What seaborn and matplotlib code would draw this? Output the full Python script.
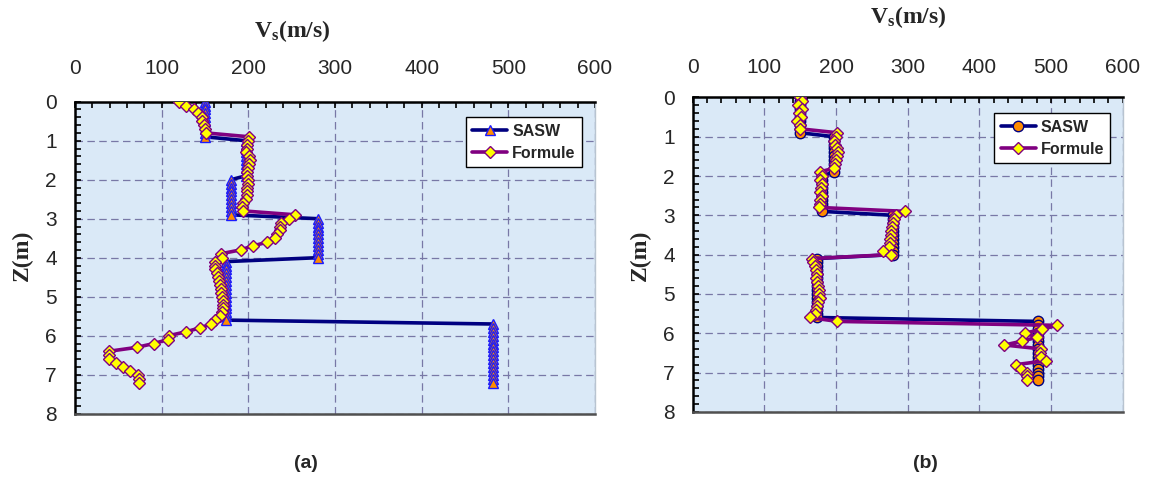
import matplotlib
matplotlib.use("Agg")
import matplotlib.pyplot as plt
import seaborn as sns
import pandas as pd
from matplotlib.ticker import MultipleLocator
from matplotlib.lines import Line2D

# ---------------- data ----------------
depth = [0.0, 0.1, 0.2, 0.3, 0.4, 0.5, 0.6, 0.7, 0.8, 0.9,
         1.0, 1.1, 1.2, 1.3, 1.4, 1.5, 1.6, 1.7, 1.8, 1.9,
         2.0, 2.1, 2.2, 2.3, 2.4, 2.5, 2.6, 2.7, 2.8, 2.9,
         3.0, 3.1, 3.2, 3.3, 3.4, 3.5, 3.6, 3.7, 3.8, 3.9,
         4.0, 4.1, 4.2, 4.3, 4.4, 4.5, 4.6, 4.7, 4.8, 4.9,
         5.0, 5.1, 5.2, 5.3, 5.4, 5.5, 5.6, 5.7, 5.8, 5.9,
         6.0, 6.1, 6.2, 6.3, 6.4, 6.5, 6.6, 6.7, 6.8, 6.9,
         7.0, 7.1, 7.2]

sasw = [150, 150, 150, 150, 150, 150, 150, 150, 150, 150,
        197, 197, 197, 197, 197, 197, 197, 197, 197, 197,
        180, 180, 180, 180, 180, 180, 180, 180, 180, 180,
        280, 280, 280, 280, 280, 280, 280, 280, 280, 280,
        280, 174, 174, 174, 174, 174, 174, 174, 174, 174,
        174, 174, 174, 174, 174, 174, 174, 482, 482, 482,
        482, 482, 482, 482, 482, 482, 482, 482, 482, 482,
        482, 482, 482]

formule_a = [120, 128, 137, 142, 146, 147, 149, 150, 151, 201,
             200, 199, 198, 197, 201, 202, 201, 200, 199, 199,
             200, 200, 199, 199, 198, 197, 194, 193, 194, 254,
             247, 238, 237, 236, 233, 231, 222, 205, 191, 168,
             170, 162, 161, 162, 164, 165, 166, 167, 168, 169,
             170, 171, 171, 171, 170, 167, 162, 157, 144, 128,
             108, 107, 91, 71, 39, 39, 39, 47, 55, 63,
             73, 74, 74]

formule_b = [150, 153, 147, 152, 148, 151, 146, 150, 150, 202,
             200, 197, 199, 201, 203, 202, 200, 199, 197, 177,
             180, 178, 181, 179, 178, 180, 178, 177, 176, 296,
             283, 281, 280, 278, 277, 276, 275, 275, 274, 266,
             277, 167, 168, 170, 172, 173, 172, 174, 175, 176,
             176, 177, 175, 174, 172, 170, 163, 202, 508, 488,
             463, 481, 460, 435, 486, 484, 486, 493, 451, 458,
             467, 467, 467]

x_ticks = [0, 100, 200, 300, 400, 500, 600]
y_ticks = [0, 1, 2, 3, 4, 5, 6, 7, 8]
series_names = ["SASW", "Formule"]
panel_labels = ["(a)", "(b)"]

# ---------------- style ----------------
sns.set_theme(style="white")
plt.rcParams["font.family"] = ["Liberation Sans", "DejaVu Sans"]
plt.rcParams["mathtext.fontset"] = "custom"
plt.rcParams["mathtext.rm"] = "Liberation Serif"
plt.rcParams["mathtext.bf"] = "Liberation Serif:bold"
plt.rcParams["mathtext.it"] = "Liberation Serif:italic"

W, H = 1154, 480
fig = plt.figure(figsize=(W / 100, H / 100), dpi=100)

BG = "#dae9f7"
NAVY = "#000080"
PURPLE = "#800080"
ORANGE = "#ff8c00"
YELLOW = "#ffff00"


def px_axes(x0, x1, ytop, ybot):
    return fig.add_axes([x0 / W, 1 - ybot / H, (x1 - x0) / W, (ybot - ytop) / H])


def style_axes(ax, xpad):
    ax.set_facecolor(BG)
    ax.set_xlim(0, 600)
    ax.set_ylim(8, 0)
    ax.set_xticks(x_ticks)
    ax.set_yticks(y_ticks)
    ax.xaxis.set_minor_locator(MultipleLocator(20))
    ax.yaxis.set_minor_locator(MultipleLocator(0.2))
    ax.xaxis.tick_top()
    ax.tick_params(axis="x", which="both", top=True, bottom=False, labeltop=True,
                   labelbottom=False, direction="in", length=4.5, width=1.2,
                   color="black")
    ax.tick_params(axis="x", which="major", pad=xpad, labelsize=15)
    ax.tick_params(axis="y", which="both", left=True, right=False, direction="in",
                   length=4.5, width=1.2, color="black")
    ax.tick_params(axis="y", which="major", pad=13, labelsize=15)
    ax.grid(True, which="major", linestyle=(0, (6, 3.5)), linewidth=0.9,
            color="#7878a6")
    ax.set_axisbelow(True)
    for s in ["left", "top"]:
        ax.spines[s].set_color("black")
        ax.spines[s].set_linewidth(1.8)
    ax.spines["bottom"].set_color("#505050")
    ax.spines["bottom"].set_linewidth(1.8)
    ax.spines["right"].set_color("#b8c4d0")
    ax.spines["right"].set_linewidth(1.0)


def draw_panel(ax, formule, sasw_marker, sasw_ms):
    df_s = pd.DataFrame({"V": sasw, "Z": depth})
    df_f = pd.DataFrame({"V": formule, "Z": depth})
    sasw_edge = "#1a1aff" if sasw_marker == "^" else NAVY
    sns.lineplot(data=df_s, x="V", y="Z", sort=False, estimator=None, ax=ax,
                 color=NAVY, linewidth=2.6, marker=sasw_marker, markersize=sasw_ms,
                 markerfacecolor=ORANGE, markeredgecolor=sasw_edge,
                 markeredgewidth=1.0, zorder=3)
    sns.lineplot(data=df_f, x="V", y="Z", sort=False, estimator=None, ax=ax,
                 color=PURPLE, linewidth=2.6, marker="D", markersize=6.0,
                 markerfacecolor=YELLOW, markeredgecolor=PURPLE,
                 markeredgewidth=1.0, zorder=4)
    ax.set_xlabel("")
    ax.set_ylabel("")
    handles = [
        Line2D([], [], color=NAVY, linewidth=2.6, marker=sasw_marker, markersize=sasw_ms,
               markerfacecolor=ORANGE, markeredgecolor=sasw_edge),
        Line2D([], [], color=PURPLE, linewidth=2.6, marker="D", markersize=6.0,
               markerfacecolor=YELLOW, markeredgecolor=PURPLE),
    ]
    leg = ax.legend(handles, series_names, loc="upper right",
                    bbox_to_anchor=(0.99, 0.975), frameon=True, fancybox=False,
                    framealpha=1, edgecolor="black", handlelength=2.2,
                    handletextpad=0.3, borderpad=0.4, labelspacing=0.45,
                    prop={"weight": "bold", "size": 11.5, "family": "Liberation Sans"})
    leg.get_frame().set_linewidth(1.0)


ax1 = px_axes(75, 595, 101.7, 413.7)
style_axes(ax1, 17)
draw_panel(ax1, formule_a, "^", 6.5)

ax2 = px_axes(692.7, 1122.7, 97.4, 411.8)
style_axes(ax2, 15)
draw_panel(ax2, formule_b, "o", 7.5)

# titles / axis labels
title = r"$\mathbf{V_s(m/s)}$"
fig.text(292 / W, 1 - 31 / H, title, ha="center", va="center", fontsize=17)
fig.text(908 / W, 1 - 17 / H, title, ha="center", va="center", fontsize=17)
serif = ["Liberation Serif", "DejaVu Serif"]
fig.text(22 / W, 1 - 255 / H, "Z(m)", ha="center", va="center", rotation=90,
         fontsize=17, fontweight="bold", family=serif)
fig.text(640 / W, 1 - 255 / H, "Z(m)", ha="center", va="center", rotation=90,
         fontsize=17, fontweight="bold", family=serif)
fig.text(306 / W, 1 - 463 / H, panel_labels[0], ha="center", va="center",
         fontsize=14, fontweight="bold")
fig.text(925 / W, 1 - 463 / H, panel_labels[1], ha="center", va="center",
         fontsize=14, fontweight="bold")

fig.savefig("out.png", dpi=100, facecolor="white")
